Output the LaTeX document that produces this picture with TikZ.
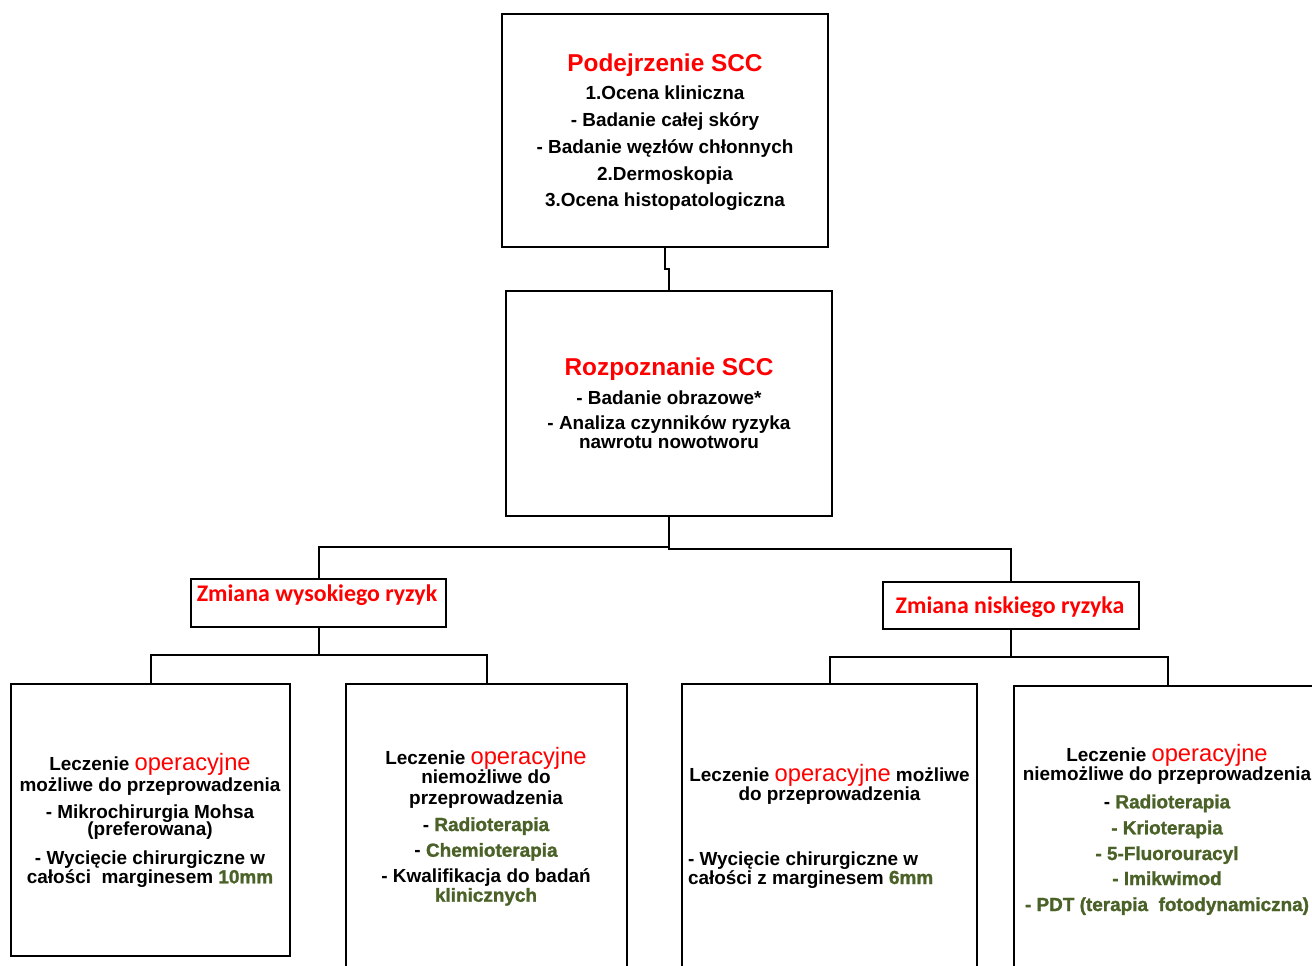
\documentclass[tikz,border=0pt]{standalone}
\usepackage{fontspec}
\setmainfont{Liberation Sans}
\newfontfamily\calibfont{Carlito}
\newfontfamily\heavyfont{Liberation Sans}[BoldFeatures={FakeBold=1.3}]
\definecolor{grn}{HTML}{4A6127}
\definecolor{rd}{HTML}{FF0000}
\newcommand\bodysize{\fontsize{14.2}{17}\selectfont\bfseries}
\newcommand\titlesize{\fontsize{18.3}{22}\selectfont\bfseries}
\newcommand\opw{{\color{rd}\fontsize{17.8}{20}\selectfont\mdseries operacyjne}}
\newcommand\gr[1]{{\heavyfont\bfseries\color{grn}#1}}
\newcommand\Ln[4]{\node[ln] (#1) at (#2,#3) {#4};}
\begin{document}
\begin{tikzpicture}[x=0.75pt,y=-0.75pt,
  box/.style={draw, line width=1.5pt, inner sep=0pt, outer sep=0pt, anchor=north west, fill=white},
  conn/.style={draw, line width=1.5pt},
  ln/.style={anchor=base, inner sep=0pt, outer sep=0pt, font=\bodysize, text=black}]
\useasboundingbox (0,0) rectangle (1312,965);
\fill[white] (0,0) rectangle (1312,965);
\clip (0,0) rectangle (1312,965);

% boxes
\node[box, minimum width=244.5pt, minimum height=174.75pt] (top) at (502,14) {};
\node[box, minimum width=244.5pt, minimum height=168.75pt] (mid) at (506,291) {};
\node[box, minimum width=191.25pt, minimum height=36pt] (hi) at (191,579) {};
\node[box, minimum width=192pt, minimum height=35.25pt] (lo) at (883,582) {};
\node[box, minimum width=209.25pt, minimum height=204pt] (b1) at (11,684) {};
\node[box, minimum width=210.75pt, minimum height=225pt] (b2) at (346,684) {};
\node[box, minimum width=221.25pt, minimum height=225pt] (b3) at (682,684) {};
\node[box, minimum width=231pt, minimum height=225pt] (b4) at (1014,686) {};

% connectors
\draw[conn] (top.south) -- ++(0,22) -| (mid.north);
\draw[conn] (mid.south) -- ++(0,31) -| (hi.north);
\draw[conn] (mid.south) -- ++(0,33) -| (lo.north);
\draw[conn] (hi.south) -- ++(0,28) -| (b1.north);
\draw[conn] (hi.south) -- ++(0,28) -| (b2.north);
\draw[conn] (lo.south) -- ++(0,28) -| (b3.north);
\draw[conn] (lo.south) -- ++(0,28) -| (b4.north);

% top box text
\Ln{t1}{665}{71.7}{\titlesize\color{rd}Podejrzenie SCC}
\Ln{t2}{665}{99.3}{1.Ocena kliniczna}
\Ln{t3}{665}{126.5}{- Badanie całej skóry}
\Ln{t4}{665}{153.3}{- Badanie węzłów chłonnych}
\Ln{t5}{665}{180}{2.Dermoskopia}
\Ln{t6}{665}{206.7}{3.Ocena histopatologiczna}

% middle box text
\Ln{m1}{669}{375}{\titlesize\color{rd}Rozpoznanie SCC}
\Ln{m2}{669}{404}{- Badanie obrazowe*}
\Ln{m3}{669}{429.3}{- Analiza czynników ryzyka}
\Ln{m4}{669}{448.3}{nawrotu nowotworu}

% risk labels
\node[ln, font=\calibfont\fontsize{17.9}{20}\selectfont\bfseries, text=rd] (h1) at (317,601.7) {Zmiana wysokiego ryzyk};
\node[ln, font=\calibfont\fontsize{17.9}{20}\selectfont\bfseries, text=rd] (l1) at (1010,613.3) {Zmiana niskiego ryzyka};

% box 1
\Ln{a1}{150}{770}{Leczenie \opw}
\Ln{a2}{150}{791}{możliwe do przeprowadzenia}
\Ln{a3}{150}{818.3}{- Mikrochirurgia Mohsa}
\Ln{a4}{150}{835.3}{(preferowana)}
\Ln{a5}{150}{864}{- Wycięcie chirurgiczne w}
\Ln{a6}{150}{883.3}{całości\ \ marginesem \gr{10mm}}

% box 2
\Ln{c1}{486}{764}{Leczenie \opw}
\Ln{c2}{486}{783.3}{niemożliwe do}
\Ln{c3}{486}{804}{przeprowadzenia}
\Ln{c4}{486}{831}{- \gr{Radioterapia}}
\Ln{c5}{486}{856.7}{- \gr{Chemioterapia}}
\Ln{c6}{486}{882.3}{- Kwalifikacja do badań}
\Ln{c7}{486}{901.7}{\gr{klinicznych}}

% box 3
\Ln{d1}{829.5}{781}{Leczenie \opw{} możliwe}
\Ln{d2}{829.5}{800.7}{do przeprowadzenia}
\node[ln, anchor=base west] (d3) at (688,865) {- Wycięcie chirurgiczne w};
\node[ln, anchor=base west] (d4) at (688,884) {całości z marginesem \gr{6mm}};

% box 4
\Ln{e1}{1167}{761}{Leczenie \opw}
\Ln{e2}{1167}{780}{niemożliwe do przeprowadzenia}
\Ln{e3}{1167}{808.3}{- \gr{Radioterapia}}
\Ln{e4}{1167}{834.3}{\gr{- Krioterapia}}
\Ln{e5}{1167}{860}{\gr{- 5-Fluorouracyl}}
\Ln{e6}{1167}{885}{\gr{- Imikwimod}}
\Ln{e7}{1167}{911}{\gr{- PDT (terapia\ \ fotodynamiczna)}}
\end{tikzpicture}
\end{document}
